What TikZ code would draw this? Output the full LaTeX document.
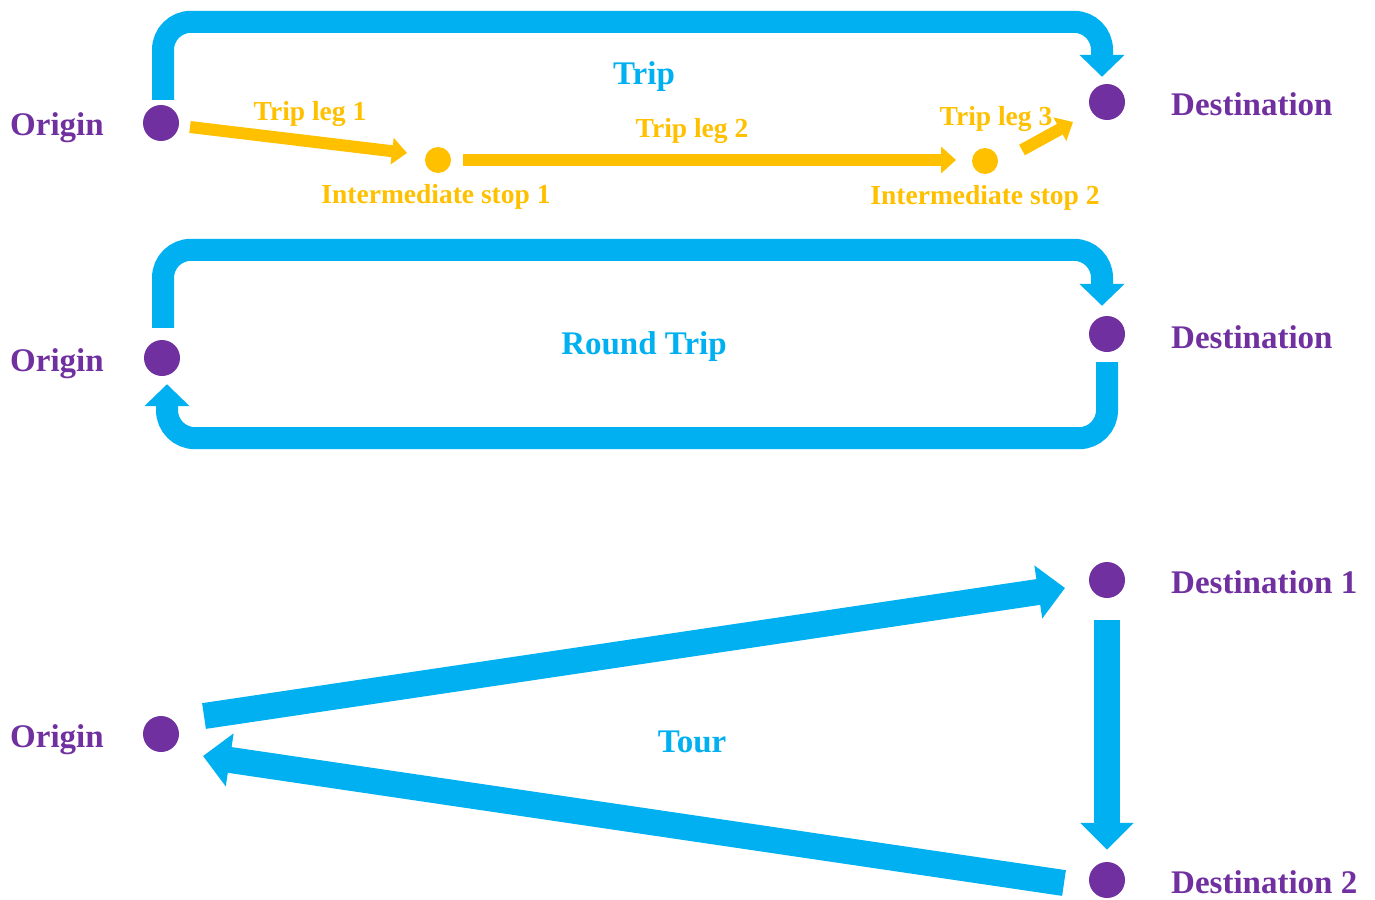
\documentclass[tikz,border=0pt]{standalone}
\usepackage{fontspec}
\setmainfont{Liberation Serif}
\usetikzlibrary{arrows.meta}
\definecolor{tblue}{HTML}{00B0F0}
\definecolor{tyellow}{HTML}{FFC000}
\definecolor{tpurple}{HTML}{7030A0}
\begin{document}
\begin{tikzpicture}[x=1pt,y=-1pt,
  pdot/.style={circle,fill=tpurple,inner sep=0pt,minimum size=36pt},
  ydot/.style={circle,fill=tyellow,inner sep=0pt,minimum size=26pt},
  bigarrow/.style={draw=tblue,line width=22pt,-{Triangle[width=44pt,length=22pt]},rounded corners=28pt},
  tourarrow/.style={draw=tblue,line width=26pt,-{Triangle[width=52pt,length=27pt]}},
  legarrow/.style={draw=tyellow,line width=12pt,-{Triangle[width=26pt,length=15pt]}},
  place/.style={font=\bfseries\fontsize{33}{36}\selectfont,text=tpurple,inner sep=0pt,anchor=base west},
  title/.style={font=\bfseries\fontsize{33}{36}\selectfont,text=tblue,inner sep=0pt,anchor=base},
  leglabel/.style={font=\bfseries\fontsize{27.5}{30}\selectfont,text=tyellow,inner sep=0pt,anchor=base}
]
\useasboundingbox (0,0) rectangle (1375,899);

% ---------- Trip ----------
\node[pdot] (o1) at (161,123) {};
\node[pdot] (d1) at (1107,102) {};
\node[ydot] (s1) at (438,160) {};
\node[ydot] (s2) at (985,161) {};
\draw[bigarrow] ([xshift=2pt,yshift=5pt]o1.north) -- ++(0,-78) -| ([xshift=-5pt,yshift=7pt]d1.north);
\draw[legarrow] ([shift={(29,4)}]o1.center) -- ([shift={(-31,-7)}]s1.center);
\draw[legarrow] ([shift={(25,0)}]s1.center) -- ([shift={(-29,-1)}]s2.center);
\draw[legarrow] ([shift={(37,-11)}]s2.center) -- ([shift={(-34,20)}]d1.center);
\node[place] (to1) at (10,135) {Origin};
\node[place] (td1) at (1171,115) {Destination};
\node[title] (ttrip) at (644,84) {Trip};
\node[leglabel] (l1) at (310,120) {Trip leg 1};
\node[leglabel] (l2) at (692,137) {Trip leg 2};
\node[leglabel] (l3) at (996,125) {Trip leg 3};
\node[leglabel] (i1) at (436,203) {Intermediate stop 1};
\node[leglabel] (i2) at (985,204) {Intermediate stop 2};

% ---------- Round trip ----------
\node[pdot] (o2) at (162,358) {};
\node[pdot] (d2) at (1107,334) {};
\draw[bigarrow] ([xshift=1pt,yshift=12pt]o2.north) -- ++(0,-78) -| ([xshift=-5pt,yshift=10pt]d2.north);
\draw[bigarrow] ([yshift=-10pt]d2.south) -- ++(0,76) -| ([xshift=5pt,yshift=-8pt]o2.south);
\node[place] (to2) at (10,371) {Origin};
\node[place] (td2) at (1171,348) {Destination};
\node[title] (tround) at (644,354) {Round Trip};

% ---------- Tour ----------
\node[pdot] (o3) at (161,734) {};
\node[pdot] (d3a) at (1107,580) {};
\node[pdot] (d3b) at (1107,880) {};
\draw[tourarrow] ([shift={(43,-18)}]o3.center) -- ([shift={(-42,8)}]d3a.center);
\draw[tourarrow] ([yshift=-22pt]d3a.south) -- ([yshift=12pt]d3b.north);
\draw[tourarrow] ([shift={(-43,3)}]d3b.center) -- ([shift={(42,22)}]o3.center);
\node[place] (to3) at (10,747) {Origin};
\node[place] (td3a) at (1171,593) {Destination 1};
\node[place] (td3b) at (1171,893) {Destination 2};
\node[title] (ttour) at (692,752) {Tour};
\end{tikzpicture}
\end{document}
